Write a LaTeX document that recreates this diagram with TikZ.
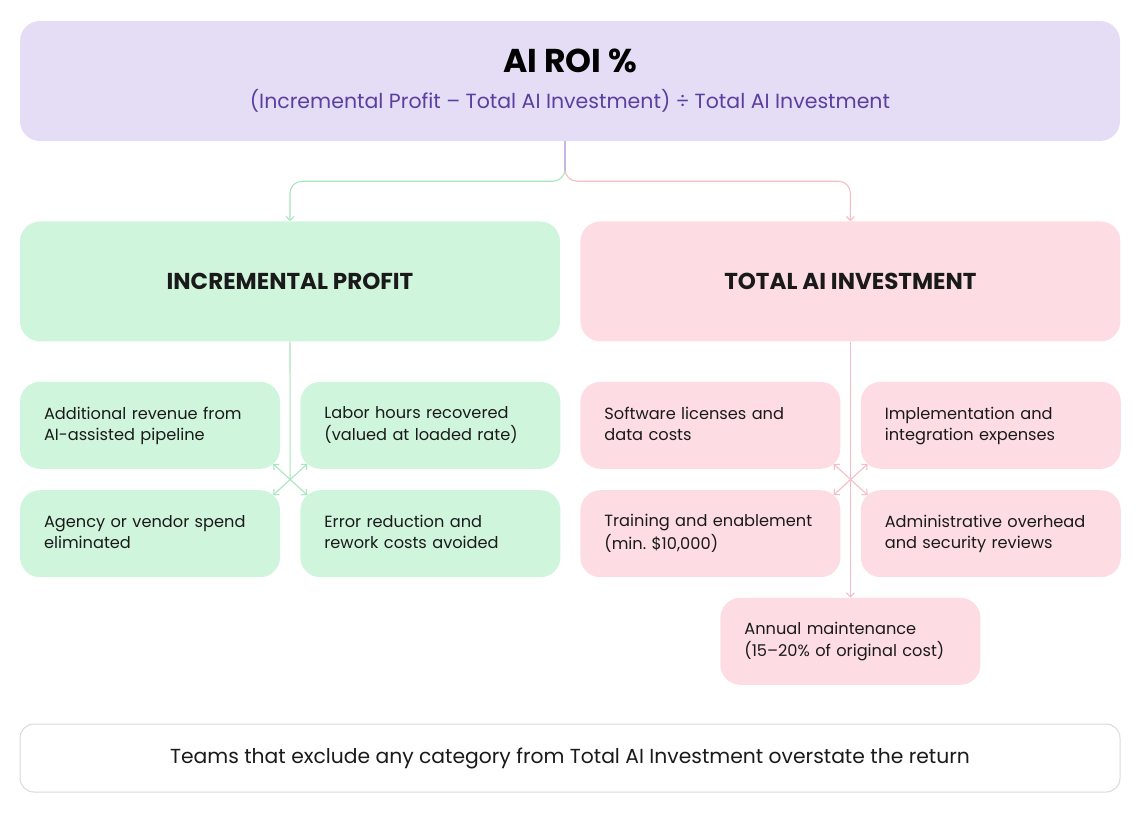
\documentclass[tikz,border=0pt]{standalone}
\usepackage{fontspec}
\setmainfont{Poppins}
\usetikzlibrary{arrows.meta, positioning, calc}
\definecolor{roiFill}{HTML}{E5DDF5}
\definecolor{roiText}{HTML}{5B3FA0}
\definecolor{roiLine}{HTML}{C5B6E3}
\definecolor{profFill}{HTML}{D0F5DD}
\definecolor{profLine}{HTML}{A9E5BD}
\definecolor{costFill}{HTML}{FDDDE3}
\definecolor{costLine}{HTML}{F4BDC7}
\definecolor{noteGray}{HTML}{DADADA}
\definecolor{textDark}{HTML}{1A1A1A}

\begin{document}
\begin{tikzpicture}[x=1pt, y=-1pt,
    headbox/.style={rounded corners=20pt, minimum width=540pt, minimum height=120pt,
      font=\fontsize{23}{27}\selectfont\bfseries, text=textDark},
    itembox/.style={rounded corners=20pt, minimum height=87pt, text width=212pt,
      inner xsep=24pt, inner ysep=0pt, align=left, font=\fontsize{16.2}{21}\selectfont, text=textDark,
      execute at begin node=\strut, execute at end node=\strut},
    link/.style={line width=1.1pt, -{Straight Barb[length=4pt, width=8pt]}}]
    \useasboundingbox (0,0) rectangle (1140,812);

    \node[fill=roiFill, rounded corners=20pt, minimum width=1100pt, minimum height=120pt,
          align=center, font=\fontsize{33}{36}\selectfont\bfseries, text=black] (roi) at (570,81)
          {AI ROI \%\\[0pt]{\fontsize{20.5}{24}\selectfont\mdseries\color{roiText}(Incremental Profit – Total AI Investment) ÷ Total AI Investment}};

    \node[headbox, fill=profFill, below=80pt of roi.south west, anchor=north west] (inc) {INCREMENTAL PROFIT};
    \node[headbox, fill=costFill, right=20pt of inc] (tot) {TOTAL AI INVESTMENT};

    % profit side
    \node[itembox, fill=profFill, below=40pt of inc.south west, anchor=north west] (rev)
          {Additional revenue from\\AI-assisted pipeline};
    \node[itembox, fill=profFill, right=20pt of rev] (labor)
          {Labor hours recovered\\(valued at loaded rate)};
    \node[itembox, fill=profFill, below=21pt of rev] (agency)
          {Agency or vendor spend\\eliminated};
    \node[itembox, fill=profFill, right=20pt of agency] (error)
          {Error reduction and\\rework costs avoided};

    % investment side
    \node[itembox, fill=costFill, below=40pt of tot.south west, anchor=north west] (lic)
          {Software licenses and\\data costs};
    \node[itembox, fill=costFill, right=20pt of lic] (impl)
          {Implementation and\\integration expenses};
    \node[itembox, fill=costFill, below=21pt of lic] (train)
          {Training and enablement\\(min.\ \$10,000)};
    \node[itembox, fill=costFill, right=20pt of train] (admin)
          {Administrative overhead\\and security reviews};
    \node[itembox, fill=costFill, below=256pt of tot] (maint)
          {Annual maintenance\\(15–20\% of original cost)};

    \node[draw=noteGray, line width=1pt, fill=white, rounded corners=14pt, minimum width=1100pt,
          minimum height=68pt, font=\fontsize{20.3}{24}\selectfont, text=textDark] (note) at (570,758)
          {Teams that exclude any category from Total AI Investment overstate the return};

    % split from the formula
    \coordinate (drop) at ($(roi.south)+(-5,0)$);
    \coordinate (split) at ($(drop)+(0,40)$);
    \draw[link, profLine, rounded corners=12pt] (drop) -- (split) -| (inc.north);
    \draw[link, costLine, rounded corners=12pt] (drop) -- (split) -| (tot.north);
    \draw[line width=1.1pt, roiLine] (drop) -- ($(split)+(0,-10)$);

    % profit cross
    \coordinate (gx) at ($(rev.south east)!0.5!(error.north west)$);
    \draw[line width=1.1pt, profLine] (inc.south) -- (gx);
    \draw[link, profLine] (gx) -- ($(rev.south east)+(-7,-5)$);
    \draw[link, profLine] (gx) -- ($(labor.south west)+(7,-5)$);
    \draw[link, profLine] (gx) -- ($(agency.north east)+(-7,5)$);
    \draw[link, profLine] (gx) -- ($(error.north west)+(7,5)$);

    % investment cross
    \coordinate (px) at ($(lic.south east)!0.5!(admin.north west)$);
    \draw[link, costLine] (tot.south) -- (maint.north);
    \draw[link, costLine] (px) -- ($(lic.south east)+(-7,-5)$);
    \draw[link, costLine] (px) -- ($(impl.south west)+(7,-5)$);
    \draw[link, costLine] (px) -- ($(train.north east)+(-7,5)$);
    \draw[link, costLine] (px) -- ($(admin.north west)+(7,5)$);
\end{tikzpicture}
\end{document}
